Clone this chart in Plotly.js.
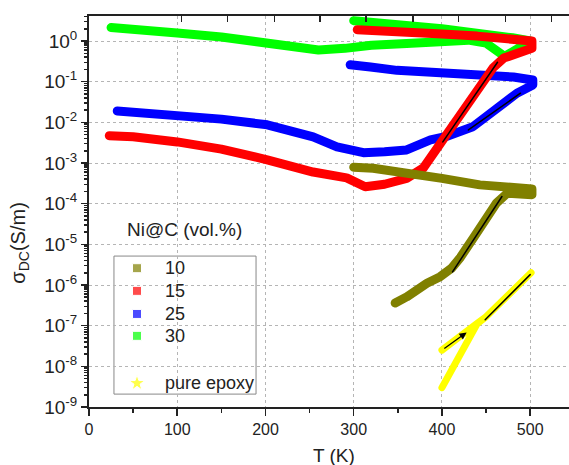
<!DOCTYPE html>
<html>
<head>
<meta charset="utf-8">
<script src="https://cdn.plot.ly/plotly-3.0.1.min.js"></script>
<style>
html,body{margin:0;padding:0;background:#fff;}
#chart{width:569px;height:465px;}
.js-line{stroke-linejoin:round;stroke-linecap:round;}
</style>
</head>
<body>
<div id="chart"></div>
<script>
// ---- data ----
const T10   = [347, 360, 383, 398, 411, 421, 436, 451, 462, 474, 502, 502, 443, 400, 367, 322, 300];
const S10   = [3.6e-7, 5.1e-7, 1.1e-6, 1.6e-6, 2.6e-6, 4.8e-6, 1.48e-5, 4.7e-5, 1.05e-4, 1.8e-4, 1.66e-4, 2.3e-4, 2.9e-4, 4.2e-4, 5.4e-4, 7.4e-4, 7.9e-4];

const T15   = [23, 50, 100, 150, 202, 254, 292, 305, 313, 335, 360, 379, 401, 421, 443, 458, 470, 485, 502, 502, 480, 440, 400, 350, 304];
const S15   = [4.7e-3, 4.4e-3, 3.3e-3, 2.2e-3, 1.2e-3, 6.0e-4, 4.3e-4, 2.9e-4, 2.6e-4, 3.0e-4, 4.2e-4, 7.6e-4, 3.8e-3, 1.5e-2, 7.6e-2, 0.22, 0.38, 0.52, 0.66, 1.0, 1.12, 1.32, 1.48, 1.7, 1.9];

const T25   = [32, 100, 150, 202, 254, 281, 304, 311, 335, 360, 387, 405, 435, 462, 485, 503, 503, 481, 443, 406, 349, 319, 296];
const S25   = [1.9e-2, 1.5e-2, 1.2e-2, 8.7e-3, 4.4e-3, 2.5e-3, 1.8e-3, 1.8e-3, 1.9e-3, 2.1e-3, 3.7e-3, 4.5e-3, 7.8e-3, 2.0e-2, 5.2e-2, 8.3e-2, 0.11, 0.13, 0.14, 0.15, 0.19, 0.23, 0.26];

const T30   = [25, 50, 100, 150, 200, 230, 260, 290, 320, 360, 400, 430, 450, 462, 471, 485, 500, 500, 480, 450, 400, 350, 300];
const S30   = [2.14, 2.0, 1.58, 1.26, 0.93, 0.79, 0.60, 0.66, 0.79, 0.87, 1.0, 1.05, 0.89, 0.63, 0.42, 0.63, 0.95, 1.0, 1.2, 1.51, 2.0, 2.5, 3.16];

const TEp   = [400, 413, 428, 440, 450, 465, 480, 501, 480, 465, 450, 440, 420, 400];
const SEp   = [3.0e-9, 1.0e-8, 3.7e-8, 1.12e-7, 1.66e-7, 3.5e-7, 7.1e-7, 2.0e-6, 7.1e-7, 3.5e-7, 1.66e-7, 1.15e-7, 5.4e-8, 2.5e-8];

// black linear (Arrhenius) fit segments
const fitT15 = [401, 463];   const fitS15 = [3.3e-3, 0.30];
const fitT25 = [430, 489];   const fitS25 = [6.5e-3, 5.2e-2];
const fitT10 = [412, 468];   const fitS10 = [2.1e-6, 1.5e-4];
const fitTEp = [449, 500];   const fitSEp = [1.4e-7, 1.8e-6];
const arrowT = [401, 428];   const arrowS = [2.6e-8, 6.8e-8];

const legendTitle = 'Ni@C (vol.%)';
const seriesNames = ['10', '15', '25', '30', 'pure epoxy'];
const colors = {c10:'#808000', c15:'#ff0000', c25:'#0000ff', c30:'#00ff00', ep:'#ffff00'};
const legendColors = [colors.c10, colors.c15, colors.c25, colors.c30, colors.ep];
const legendSymbols = ['square', 'square', 'square', 'square', 'star'];

const xTicks = [0, 100, 200, 300, 400, 500];
const yTickVals = [1e-9, 1e-8, 1e-7, 1e-6, 1e-5, 1e-4, 1e-3, 1e-2, 1e-1, 1];
const yTickText = ['10<sup>-9</sup>','10<sup>-8</sup>','10<sup>-7</sup>','10<sup>-6</sup>','10<sup>-5</sup>','10<sup>-4</sup>','10<sup>-3</sup>','10<sup>-2</sup>','10<sup>-1</sup>','10<sup>0</sup>'];
const topTicks = [105, 157, 210, 262, 314, 367, 419, 472, 524];

// ---- layout constants (legend placement in paper units) ----
const legRowY = [0.355, 0.297, 0.238, 0.182, 0.061];
const legSymX = 0.10, legTextX = 0.154;

// minor log ticks (2..9 x decade)
const yMinor = [];
for (let e = -9; e <= 0; e++) for (let m = 2; m <= 9; m++) yMinor.push(m * Math.pow(10, e));

const FONT = 'Arial, "Liberation Sans", sans-serif';
const TXT = '#222';
const LW = 9;

function band(x, y, c, w) {
  return {x: x, y: y, mode: 'lines', line: {color: c, width: w}, showlegend: false, hoverinfo: 'skip'};
}
function fit(x, y) {
  return {x: x, y: y, mode: 'lines', line: {color: '#000', width: 1.5}, showlegend: false, hoverinfo: 'skip'};
}

const data = [
  band(T30, S30, colors.c30, LW),
  band(T25, S25, colors.c25, LW),
  band(T15, S15, colors.c15, LW),
  band(T10, S10, colors.c10, LW),
  band(TEp, SEp, colors.ep, 7),
  fit(fitT15, fitS15), fit(fitT25, fitS25), fit(fitT10, fitS10), fit(fitTEp, fitSEp),
  {x: legendColors.map(() => legSymX), y: legRowY, xaxis: 'x3', yaxis: 'y3', mode: 'markers',
   marker: {color: legendColors, symbol: legendSymbols, size: legendSymbols.map(s => s === 'star' ? 12 : 9)},
   showlegend: false, hoverinfo: 'skip', cliponaxis: false},
  {x: [null], y: [null], xaxis: 'x2', mode: 'markers', showlegend: false, hoverinfo: 'skip'}
];

const annotations = [
  {text: legendTitle, xref: 'paper', yref: 'paper', x: 0.198, y: 0.453, showarrow: false,
   font: {size: 19, family: FONT, color: TXT}, xanchor: 'center', yanchor: 'middle'},
  {text: 'σ<sub>DC</sub>(S/m)', xref: 'paper', yref: 'paper', x: -0.144, y: 0.42, textangle: -90, showarrow: false,
   font: {size: 20, family: FONT, color: TXT}, xanchor: 'center', yanchor: 'middle'},
  {text: 'T (K)', xref: 'paper', yref: 'paper', x: 0.51, y: -0.123, showarrow: false,
   font: {size: 19, family: FONT, color: TXT}, xanchor: 'center', yanchor: 'middle'},
  {x: arrowT[1], y: Math.log10(arrowS[1]), ax: arrowT[0], ay: Math.log10(arrowS[0]),
   xref: 'x', yref: 'y', axref: 'x', ayref: 'y', text: '', showarrow: true,
   arrowhead: 2, arrowsize: 1.2, arrowwidth: 1.2, arrowcolor: '#000'}
];
seriesNames.forEach((n, i) => annotations.push({
  text: n, xref: 'paper', yref: 'paper', x: legTextX, y: legRowY[i], showarrow: false,
  xanchor: 'left', yanchor: 'middle', font: {size: 18, family: FONT, color: TXT}
}));

const layout = {
  width: 569, height: 465,
  margin: {l: 89, r: 0, t: 16, b: 58},
  paper_bgcolor: '#fff', plot_bgcolor: '#fff',
  font: {family: FONT, color: TXT, size: 16},
  showlegend: false,
  xaxis: {
    range: [0, 544], tickvals: xTicks, ticktext: xTicks.map(String),
    showline: true, linecolor: TXT, linewidth: 2, mirror: true,
    ticks: 'outside', ticklen: 7, tickwidth: 1.5, tickcolor: TXT,
    minor: {dtick: 50, tick0: 0, ticks: 'outside', ticklen: 4, tickcolor: TXT, showgrid: false},
    showgrid: true, gridcolor: '#b5b5b5', gridwidth: 1, griddash: '3px,3px',
    zeroline: false, tickfont: {size: 16, family: FONT, color: TXT}
  },
  xaxis2: {
    overlaying: 'x', side: 'top', anchor: 'y', range: [0, 544],
    tickvals: topTicks, ticks: 'inside', ticklen: 6, tickwidth: 1.5, tickcolor: TXT,
    showticklabels: false, showgrid: false, showline: false, zeroline: false
  },
  xaxis3: {overlaying: 'x', anchor: 'y3', range: [0, 1], visible: false, fixedrange: true},
  yaxis3: {overlaying: 'y', anchor: 'x3', range: [0, 1], visible: false, fixedrange: true},
  yaxis: {
    type: 'log', range: [-9, 0.615],
    tickmode: 'array', tickvals: yTickVals, ticktext: yTickText,
    showline: true, linecolor: TXT, linewidth: 2, mirror: true,
    ticks: 'outside', ticklen: 6, tickwidth: 1.5, tickcolor: TXT,
    minor: {tickmode: 'array', tickvals: yMinor, ticks: 'outside', ticklen: 3, tickcolor: TXT, showgrid: false},
    showgrid: true, gridcolor: '#b5b5b5', gridwidth: 1, griddash: '3px,3px',
    zeroline: false, tickfont: {size: 19, family: FONT, color: TXT}
  },
  shapes: [
    {type: 'rect', xref: 'paper', yref: 'paper', x0: 0.052, x1: 0.348, y0: 0.033, y1: 0.386,
     line: {color: '#888', width: 1}, fillcolor: '#fff', layer: 'between'}
  ],
  annotations: annotations
};

Plotly.newPlot('chart', data, layout, {displayModeBar: false, staticPlot: true});
</script>
</body>
</html>
